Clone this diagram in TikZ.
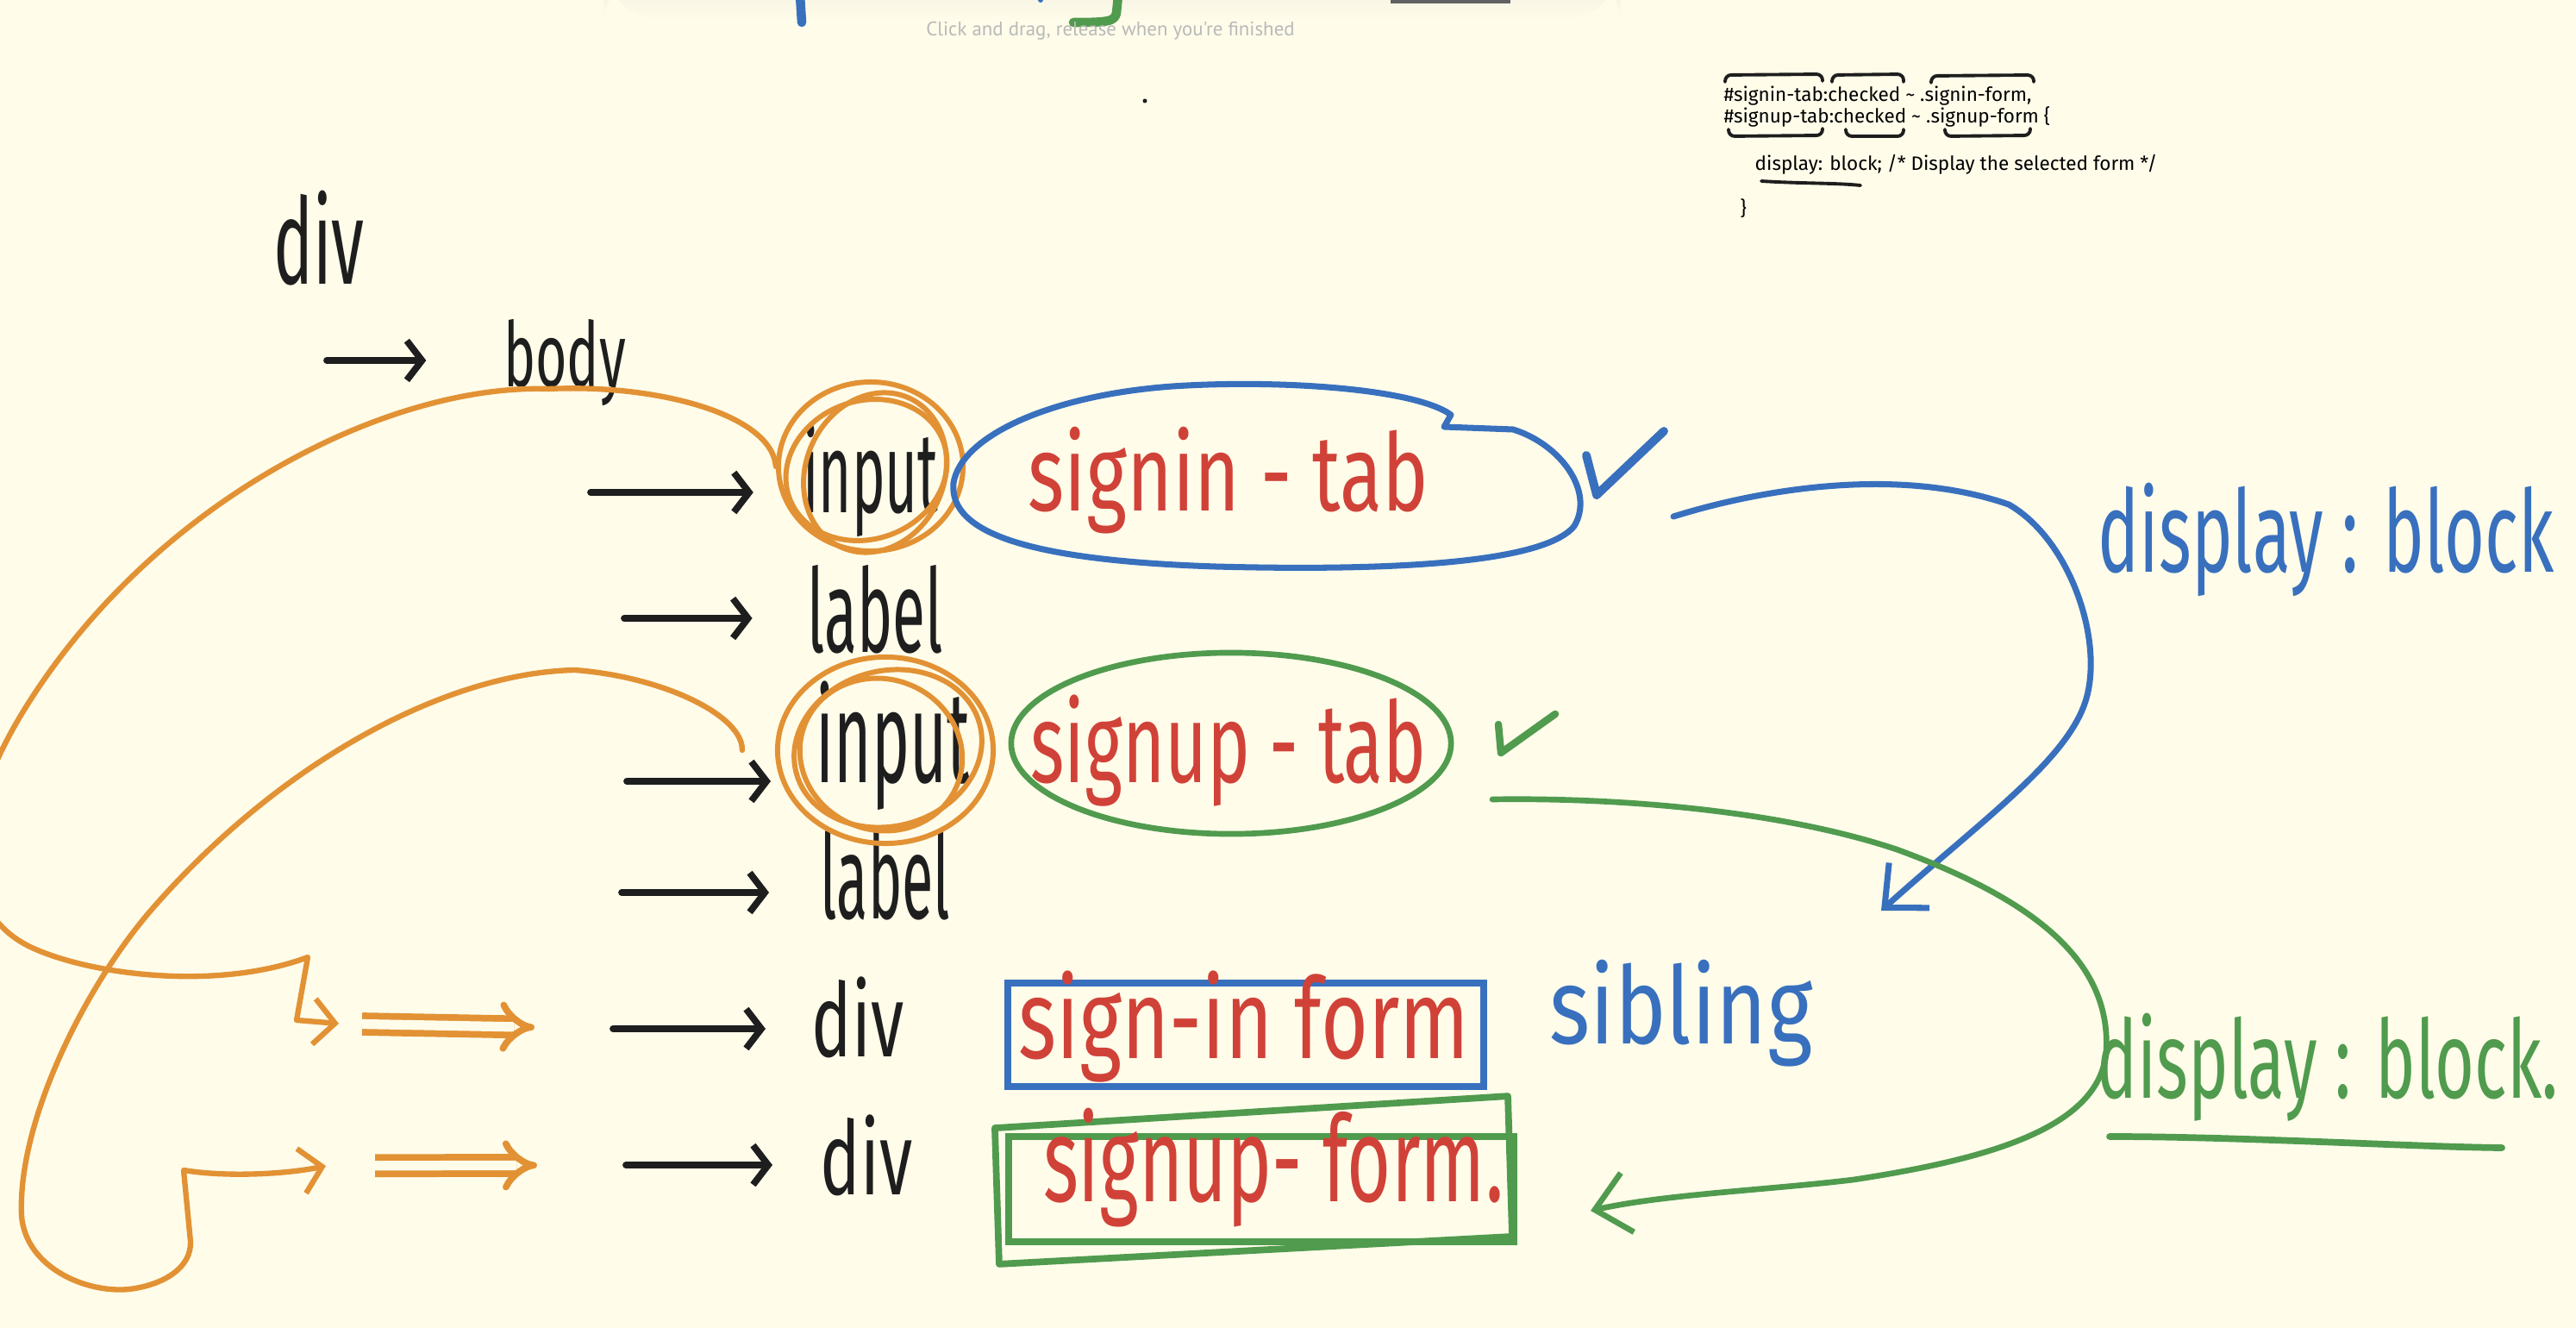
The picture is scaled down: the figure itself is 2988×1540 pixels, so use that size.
\documentclass[tikz,border=0pt]{standalone}
\usepackage{fontspec}
\usepackage{graphicx}
\usepackage{tikz}
\usetikzlibrary{arrows.meta}
\usetikzlibrary{shapes.geometric}
\newfontfamily\handfont{Fira Sans}
\newfontfamily\codefont{Fira Sans}
\newfontfamily\hintfont{PT Sans}
\definecolor{paper}{RGB}{255,252,234}
\definecolor{shadow}{RGB}{238,236,220}
\definecolor{ink}{RGB}{30,30,30}
\definecolor{markred}{RGB}{208,66,56}
\definecolor{penblue}{RGB}{56,112,190}
\definecolor{pengreen}{RGB}{80,155,78}
\definecolor{marker}{RGB}{226,146,52}
\definecolor{hintgray}{RGB}{185,185,185}
\tikzset{
    word/.style={inner sep=0pt, anchor=base},
    penarrow/.style={-{Straight Barb[length=5pt,width=13pt]}, line width=2.2pt, draw=ink, line cap=round},
    orangepen/.style={draw=marker, line width=1.8pt, line cap=round, line join=round},
    bluepen/.style={draw=penblue, line width=2pt, line cap=round, line join=round},
    greenpen/.style={draw=pengreen, line width=1.9pt, line cap=round, line join=round},
    ringnode/.style={ellipse, draw=marker, line width=1.7pt, inner sep=0pt},
    doublehop/.style={draw=marker, line width=2.2pt, double=paper, double distance=3.2pt, -{Implies[scale=1.6]}},
    bracket/.style={draw=ink, line width=1.1pt, line cap=round, rounded corners=2pt}
}
\newcommand{\hand}[2]{\scalebox{#1}[1.3]{#2}}
\newcommand{\inksize}[1]{\handfont\fontsize{#1}{#1}\selectfont}

\begin{document}
\begin{tikzpicture}[x=0.01cm, y=-0.01cm]
    \useasboundingbox (0,0) rectangle (2988,1540);
    \fill[paper] (0,0) rectangle (2988,1540);
    \clip (0,0) rectangle (2988,1540);

    % toolbar shadow and cut-off strokes at the top
    \shade[top color=shadow, bottom color=paper, rounded corners=20] (700,-40) rectangle (1880,24);
    \draw[penblue, line width=3pt, line cap=round] (928,-5) -- (930,26);
    \fill[penblue] (1207,0) circle [radius=3];
    \draw[greenpen, line width=3pt] (1297,-5) -- (1295,15) .. controls (1293,25) and (1285,26) .. (1245,26);
    \draw[ink!70, line width=2pt] (1613,0) -- (1752,0);
    \node[word, font=\hintfont\fontsize{6.5}{7}\selectfont, text=hintgray] (hint) at (1288,42) {Click and drag, release when you're finished};
    \fill[ink] (1328,117) circle [radius=2.5];

    % css snippet
    \node[word, anchor=base west, font=\codefont\fontsize{6.4}{7}\selectfont] (css1) at (1999,118) {\#signin-tab:checked \textasciitilde{} .signin-form,};
    \node[word, anchor=base west, font=\codefont\fontsize{6.4}{7}\selectfont] (css2) at (1999,143) {\#signup-tab:checked \textasciitilde{} .signup-form \{};
    \node[word, anchor=base west, font=\codefont\fontsize{6.4}{7}\selectfont] (css3) at (2035,198) {display: block; /* Display the selected form */};
    \node[word, anchor=base west, font=\codefont\fontsize{6.4}{7}\selectfont] (css4) at (2018,250) {\}};
    \draw[bracket] (2001,95) -- (2001,87) -- (2114,86) -- (2114,94);
    \draw[bracket] (2125,95) -- (2125,87) -- (2208,86) -- (2208,95);
    \draw[bracket] (2240,96) -- (2240,88) -- (2359,87) -- (2359,95);
    \draw[bracket] (2005,150) -- (2005,158) -- (2114,157) -- (2114,149);
    \draw[bracket] (2141,150) -- (2141,158) -- (2208,158) -- (2208,150);
    \draw[bracket] (2256,150) -- (2256,158) -- (2355,157) -- (2355,149);
    \draw[bracket] (2043,210) .. controls (2090,213) and (2130,212) .. (2158,215);

    % dom tree
    \node[word, font=\inksize{30.4}, text=ink] (divTop) at (370,330) {\hand{0.72}{div}};
    \node[word, font=\inksize{22.8}, text=ink] (body) at (655,449) {\hand{0.78}{body}};
    \node[word, font=\inksize{29}, text=ink] (inA) at (1010,595) {\hand{0.64}{input}};
    \node[word, font=\inksize{29.5}, text=ink] (labA) at (1015,756) {\hand{0.67}{label}};
    \node[word, font=\inksize{33}, text=ink] (inB) at (1036,907) {\hand{0.64}{input}};
    \node[word, font=\inksize{30}, text=ink] (labB) at (1027,1065) {\hand{0.63}{label}};
    \node[word, font=\inksize{26}, text=ink] (divC) at (995,1225) {\hand{0.85}{div}};
    \node[word, font=\inksize{26}, text=ink] (divD) at (1005,1385) {\hand{0.85}{div}};

    \coordinate (tBody) at (379,418);
    \coordinate (tInA) at (685,571);
    \coordinate (tLabA) at (724,717);
    \coordinate (tInB) at (727,906);
    \coordinate (tLabB) at (721,1035);
    \coordinate (tDivC) at (711,1193);
    \coordinate (tDivD) at (726,1351);
    \draw[penarrow, shorten >=0.89cm] (tBody) -- (tBody -| body.west);
    \draw[penarrow, shorten >=0.57cm] (tInA) -- (tInA -| inA.west);
    \draw[penarrow, shorten >=0.63cm] (tLabA) -- (tLabA -| labA.west);
    \draw[penarrow, shorten >=0.52cm] (tInB) -- (tInB -| inB.west);
    \draw[penarrow, shorten >=0.59cm] (tLabB) -- (tLabB -| labB.west);
    \draw[penarrow, shorten >=0.53cm] (tDivC) -- (tDivC -| divC.west);
    \draw[penarrow, shorten >=0.55cm] (tDivD) -- (tDivD -| divD.west);

    % scribbled rings round the inputs
    \node[ringnode, minimum width=2.14cm, minimum height=1.96cm] (ringA) at (1010,541) {};
    \node[ringnode, minimum width=1.6cm, minimum height=1.9cm, rotate=-25] (ringA2) at (1015,548) {};
    \node[ringnode, minimum width=1.9cm, minimum height=1.6cm, rotate=20] (ringA3) at (1005,545) {};
    \node[ringnode, minimum width=2.5cm, minimum height=2.16cm] (ringB) at (1027,870) {};
    \node[ringnode, minimum width=1.9cm, minimum height=1.75cm, rotate=-20] (ringB2) at (1022,875) {};
    \node[ringnode, minimum width=2.2cm, minimum height=1.8cm, rotate=15] (ringB3) at (1030,868) {};

    % tabs
    \draw[bluepen] (1675,495) -- (1683,481)
        .. controls (1640,450) and (1480,440) .. (1360,448)
        .. controls (1220,458) and (1115,505) .. (1106,560)
        .. controls (1100,620) and (1200,650) .. (1410,657)
        .. controls (1600,662) and (1790,655) .. (1826,610)
        .. controls (1850,570) and (1810,515) .. (1755,498) -- cycle;
    \node[word, font=\inksize{27.3}, text=markred] (signinTab) at (1425,593) {\hand{0.94}{signin - tab}};
    \node[ellipse, draw=pengreen, line width=1.9pt, minimum width=5.1cm, minimum height=2.1cm] (tabB) at (1428,862) {};
    \node[word, font=\inksize{28.5}, text=markred] (signupTab) at (1425,907) {\hand{0.84}{signup - tab}};
    \draw[bluepen, line width=2.8pt] (1840,528) -- (1852,574) -- (1930,500);
    \draw[greenpen, line width=2.4pt] (1738,840) -- (1741,873) -- (1804,828);

    % forms
    \node[draw=penblue, line width=2.2pt, minimum width=5.51cm, minimum height=1.2cm] (boxIn) at (1445,1200) {};
    \node[word, font=\inksize{28.5}, text=markred] (signinForm) at (1443,1227) {\hand{0.94}{sign-in form}};
    \node[draw=pengreen, line width=2.2pt, minimum width=5.86cm, minimum height=1.22cm] (boxUp) at (1463,1379) {};
    \draw[greenpen, line width=2.2pt] ([shift={(-12,-6)}]boxUp.north west) -- ([shift={(-11,-43)}]boxUp.north east)
        -- ([shift={(-6,-10)}]boxUp.south east) -- ([shift={(-7,22)}]boxUp.south west) -- cycle;
    \node[word, font=\inksize{30.4}, text=markred] (signupForm) at (1477,1393) {\hand{0.82}{signup- form.}};
    \node[word, font=\inksize{27.3}, text=penblue] (sibling) at (1950,1210) {\hand{1.05}{sibling}};

    % display notes
    \node[word, font=\inksize{29}, text=penblue] (dispBlue) at (2698,663) {\hand{0.79}{display : block}};
    \node[word, font=\inksize{27.6}, text=pengreen] (dispGreen) at (2700,1273) {\hand{0.81}{display : block.}};
    \draw[greenpen, line width=2.2pt] (2447,1318) .. controls (2600,1318) and (2800,1330) .. (2902,1331);

    % checked tab -> sibling form
    \coordinate (blueStart) at (1941,599);
    \coordinate (blueEnd) at (2182,1056);
    \draw[bluepen, -{Straight Barb[length=11pt,width=20pt]}] (blueStart)
        .. controls (2040,568) and (2200,540) .. (2330,585)
        .. controls (2400,625) and (2440,740) .. (2420,810)
        .. controls (2400,880) and (2300,950) .. (blueEnd);
    \coordinate (greenStart) at (1731,927);
    \coordinate (greenEnd) at (1845,1404);
    \draw[greenpen, -{Straight Barb[length=11pt,width=20pt]}] (greenStart)
        .. controls (1850,925) and (2050,935) .. (2200,985)
        .. controls (2350,1040) and (2450,1110) .. (2443,1220)
        .. controls (2435,1310) and (2300,1345) .. (2150,1368)
        .. controls (2050,1380) and (1930,1385) .. (greenEnd);

    % inputs -> forms
    \coordinate (hopA) at (393,1187);
    \coordinate (hopB) at (378,1352);
    \draw[orangepen, -{Straight Barb[length=7pt,width=15pt]}] (ringA.west)
        .. controls (895,480) and (760,445) .. (636,451)
        .. controls (450,445) and (180,580) .. (30,820)
        .. controls (-60,964) and (-40,1060) .. (33,1097)
        .. controls (100,1130) and (250,1150) .. (357,1110)
        -- (344,1183) -- (hopA);
    \draw[orangepen, -{Straight Barb[length=7pt,width=15pt]}] ([xshift=-0.38cm]ringB.west)
        .. controls (862,830) and (770,785) .. (667,777)
        .. controls (520,780) and (330,880) .. (180,1050)
        .. controls (100,1140) and (20,1300) .. (25,1410)
        .. controls (30,1470) and (100,1500) .. (150,1495)
        .. controls (190,1490) and (222,1470) .. (221,1440)
        -- (213,1357)
        .. controls (260,1365) and (330,1362) .. (hopB);
    \draw[doublehop, shorten <=0.27cm, shorten >=0.91cm] (hopA) -- (tDivC);
    \draw[doublehop, shorten <=0.57cm, shorten >=1.03cm] (hopB) -- (tDivD);
\end{tikzpicture}
\end{document}
